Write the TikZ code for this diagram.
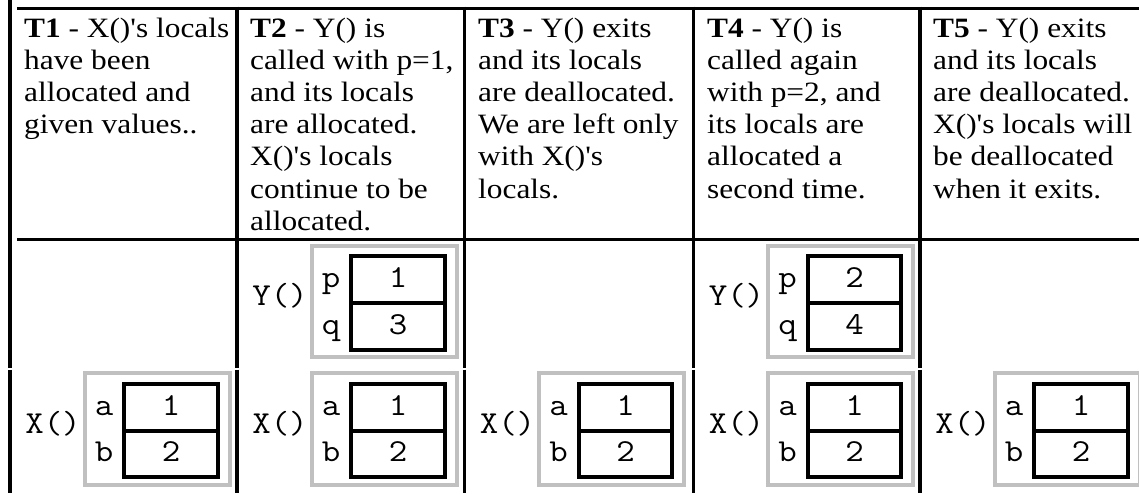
\documentclass[tikz,border=0pt]{standalone}
\usepackage{fontspec}
\setmainfont{Liberation Serif}[Ligatures=TeXOff,FakeStretch=1.12]
\definecolor{framegray}{RGB}{192,192,192}
\newcommand\celltext[1]{\vtop{\fontsize{28}{32.2}\selectfont\halign{##\hfil\cr#1\crcr}}}
\newcommand\wmono[1]{\scalebox{1.12}[1]{#1}}
\newcommand\memframe[8]{%
  \draw[graybox] ({#1+74.5},#2) rectangle ({#1+219.5},{#2+111.5});
  \draw[blackbox] ({#1+114},{#2+10.7}) rectangle ({#1+207.5},{#2+104});
  \draw[blackbox] ({#1+114},{#2+57.5}) -- ({#1+207.5},{#2+57.5});
  \node[monotxt] (#3-fn) at ({#1+43},{#2+60}) {\wmono{#4}};
  \node[monotxt] (#3-n1) at ({#1+94},{#2+42}) {\wmono{#5}};
  \node[monotxt] (#3-n2) at ({#1+94},{#2+88.5}) {\wmono{#6}};
  \node[monotxt] (#3-v1) at ({#1+161},{#2+42}) {\wmono{#7}};
  \node[monotxt] (#3-v2) at ({#1+161},{#2+88.5}) {\wmono{#8}};
}
\begin{document}
\begin{tikzpicture}[x=1pt,y=-1pt,
  rule/.style={line width=3.4pt,black},
  graybox/.style={line width=4pt,draw=framegray},
  blackbox/.style={line width=4pt,draw=black},
  celltxt/.style={anchor=base west,inner sep=0pt},
  monotxt/.style={anchor=base,inner sep=0pt,font=\ttfamily\fontsize{32}{32}\selectfont}]
\useasboundingbox (0,0) rectangle (1139,493);
% grid
\draw[rule] (17,8.3) -- (1139,8.3);
\draw[rule] (17,239.5) -- (1139,239.5);
\draw[rule] (10,0) -- (10,367.5) (10,369.5) -- (10,493);
\foreach \x in {237,464.5,693.5,920}
  \draw[rule] (\x,6.6) -- (\x,367.5) (\x,369.5) -- (\x,493);
% texts
\node[celltxt] (t1) at (24,37) {\celltext{\textbf{T1} - X()'s locals\cr have been\cr allocated and\cr given values..}};
\node[celltxt] (t2) at (250,37) {\celltext{\textbf{T2} - Y() is\cr called with p=1,\cr and its locals\cr are allocated.\cr X()'s locals\cr continue to be\cr allocated.}};
\node[celltxt] (t3) at (478,37) {\celltext{\textbf{T3} - Y() exits\cr and its locals\cr are deallocated.\cr We are left only\cr with X()'s\cr locals.}};
\node[celltxt] (t4) at (707,37) {\celltext{\textbf{T4} - Y() is\cr called again\cr with p=2, and\cr its locals are\cr allocated a\cr second time.}};
\node[celltxt] (t5) at (933,37) {\celltext{\textbf{T5} - Y() exits\cr and its locals\cr are deallocated.\cr X()'s locals will\cr be deallocated\cr when it exits.}};
% Y() frames
\memframe{237}{245.7}{y2}{Y()}{p}{q}{1}{3}
\memframe{693.5}{245.7}{y4}{Y()}{p}{q}{2}{4}
% X() frames
\memframe{10}{373.3}{x1}{X()}{a}{b}{1}{2}
\memframe{237}{373.3}{x2}{X()}{a}{b}{1}{2}
\memframe{464.5}{373.3}{x3}{X()}{a}{b}{1}{2}
\memframe{693.5}{373.3}{x4}{X()}{a}{b}{1}{2}
\memframe{920}{373.3}{x5}{X()}{a}{b}{1}{2}
\end{tikzpicture}
\end{document}
